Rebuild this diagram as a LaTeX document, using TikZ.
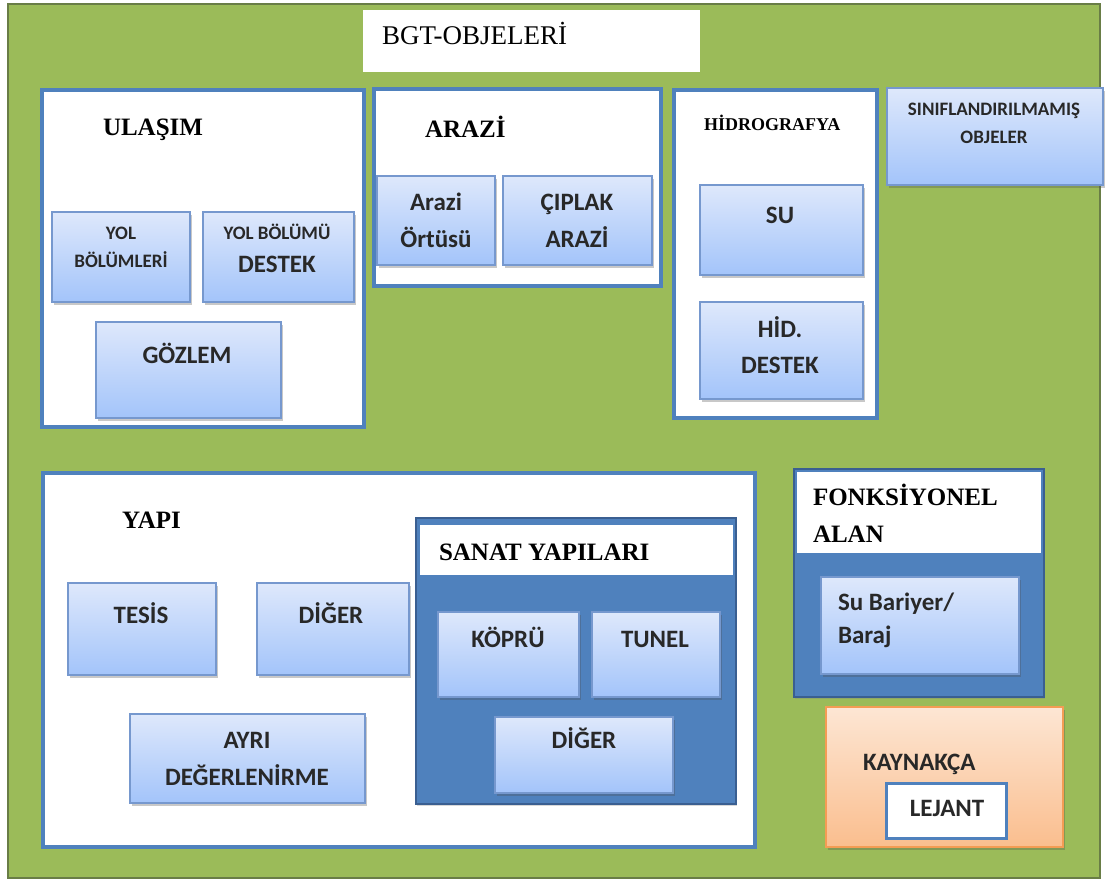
\documentclass[tikz,border=0pt]{standalone}
\usepackage{fontspec}
\setmainfont{Liberation Serif}
\newfontfamily\boxfont{Carlito}
\usetikzlibrary{shadows}

\definecolor{bgreen}{RGB}{155,187,89}
\definecolor{bgreenline}{RGB}{105,125,70}
\definecolor{frameblue}{RGB}{79,129,189}
\definecolor{darkblue}{RGB}{58,95,145}
\definecolor{boxtop}{RGB}{222,232,251}
\definecolor{boxbot}{RGB}{163,196,250}
\definecolor{boxline}{RGB}{118,152,206}
\definecolor{orgtop}{RGB}{253,230,212}
\definecolor{orgbot}{RGB}{250,190,142}
\definecolor{orgline}{RGB}{244,156,84}
\definecolor{txtc}{RGB}{40,40,40}

% rectangle node from its top-left and bottom-right corners (pixel units)
\newcommand\mkbox[6]{%
  \pgfmathsetmacro\mkw{#5-#3}\pgfmathsetmacro\mkh{#6-#4}%
  \node[#1,anchor=north west,minimum width=\mkw pt,minimum height=\mkh pt] (#2) at (#3,#4) {};}

\tikzset{
  every node/.style={inner sep=0pt, outer sep=0pt},
  area/.style={rectangle, draw=frameblue, line width=4pt, fill=white},
  darkarea/.style={rectangle, draw=darkblue, line width=2pt, fill=frameblue,
    drop shadow={shadow xshift=1pt, shadow yshift=-2pt, opacity=0.3}},
  header/.style={rectangle, fill=white},
  item/.style={rectangle, draw=boxline, line width=1.3pt, top color=boxtop, bottom color=boxbot,
    drop shadow={shadow xshift=1.5pt, shadow yshift=-3pt, opacity=0.3, fill=black!70}},
  note/.style={rectangle, draw=orgline, line width=1.3pt, top color=orgtop, bottom color=orgbot,
    drop shadow={shadow xshift=1.5pt, shadow yshift=-3pt, opacity=0.3, fill=black!70}},
  legend/.style={rectangle, draw=frameblue, line width=3pt, fill=white},
  titletext/.style={font=\fontsize{27}{32}\selectfont, anchor=base west, text=black},
  hd/.style={font=\fontsize{25}{30}\selectfont\bfseries, anchor=base west, text=black},
  hdsmall/.style={font=\fontsize{18}{22}\selectfont\bfseries, anchor=base west, text=black},
  tx/.style={font=\boxfont\fontsize{25}{30}\selectfont\bfseries, anchor=base, text=txtc},
  txl/.style={font=\boxfont\fontsize{25}{30}\selectfont\bfseries, anchor=base west, text=txtc},
  sm/.style={font=\boxfont\fontsize{19}{24}\selectfont\bfseries, anchor=base, text=txtc},
}

\begin{document}
\begin{tikzpicture}[x=1pt,y=-1pt]
\useasboundingbox (0,0) rectangle (1106,883);
\fill[white] (0,0) rectangle (1106,883);

% green canvas
\mkbox{rectangle, draw=bgreenline, line width=2pt, fill=bgreen}{canvas}{8}{4}{1100}{878}

% title
\mkbox{rectangle, fill=white}{title}{363}{10}{700}{72}
\node[titletext] (title-t) at (382,45) {BGT-OBJELERİ};

% ULAŞIM
\mkbox{area}{ulasim}{42}{90}{364}{427}
\node[hd] (ulasim-t) at (103,135) {ULAŞIM};
\mkbox{item}{yolbol}{52}{212}{190}{302}
\node[sm] (yolbol-t1) at (121,239) {YOL};
\node[sm] (yolbol-t2) at (121,267) {BÖLÜMLERİ};
\mkbox{item}{yoldes}{203}{212}{354}{302}
\node[sm] (yoldes-t1) at (277,239) {YOL BÖLÜMÜ};
\node[tx] (yoldes-t2) at (277,272) {DESTEK};
\mkbox{item}{gozlem}{96}{322}{281}{418}
\node[tx] (gozlem-t) at (187,363) {GÖZLEM};

% ARAZİ
\mkbox{area}{arazi}{374}{89}{661}{286}
\node[hd] (arazi-t) at (425,137) {ARAZİ};
\mkbox{item}{ortu}{377}{176}{495}{265}
\node[tx] (ortu-t1) at (436,210) {Arazi};
\node[tx] (ortu-t2) at (436,247) {Örtüsü};
\mkbox{item}{ciplak}{503}{176}{652}{265}
\node[tx] (ciplak-t1) at (577,210) {ÇIPLAK};
\node[tx] (ciplak-t2) at (577,247) {ARAZİ};

% HİDROGRAFYA
\mkbox{area}{hidro}{674}{90}{877}{418}
\node[hdsmall] (hidro-t) at (704,130) {HİDROGRAFYA};
\mkbox{item}{su}{700}{185}{863}{275}
\node[tx] (su-t) at (780,223) {SU};
\mkbox{item}{hidd}{700}{302}{863}{399}
\node[tx] (hidd-t1) at (780,337) {HİD.};
\node[tx] (hidd-t2) at (780,373) {DESTEK};

% SINIFLANDIRILMAMIŞ OBJELER
\mkbox{item}{sinif}{887}{88}{1103}{185}
\node[sm] (sinif-t1) at (994,115) {SINIFLANDIRILMAMIŞ};
\node[sm] (sinif-t2) at (994,143) {OBJELER};

% YAPI
\mkbox{area}{yapi}{43}{473}{755}{847}
\node[hd] (yapi-t) at (122,528) {YAPI};
\mkbox{item}{tesis}{68}{583}{216}{675}
\node[tx] (tesis-t) at (141,623) {TESİS};
\mkbox{item}{diger}{257}{583}{409}{675}
\node[tx] (diger-t) at (331,623) {DİĞER};
\mkbox{item}{ayri}{130}{714}{365}{803}
\node[tx] (ayri-t1) at (247,748) {AYRI};
\node[tx] (ayri-t2) at (247,785) {DEĞERLENİRME};

% SANAT YAPILARI
\mkbox{darkarea}{sanat}{416}{518}{736}{804}
\mkbox{header}{sanathd}{420}{525}{733}{575}
\node[hd] (sanat-t) at (439,560) {SANAT YAPILARI};
\mkbox{item}{kopru}{438}{612}{579}{697}
\node[tx] (kopru-t) at (508,647) {KÖPRÜ};
\mkbox{item}{tunel}{592}{612}{720}{697}
\node[tx] (tunel-t) at (655,647) {TUNEL};
\mkbox{item}{sdiger}{495}{717}{673}{793}
\node[tx] (sdiger-t) at (584,748) {DİĞER};

% FONKSİYONEL ALAN
\mkbox{darkarea}{fonk}{794}{469}{1044}{697}
\mkbox{header}{fonkhd}{797}{472}{1041}{553}
\node[hd] (fonk-t1) at (813,505) {FONKSİYONEL};
\node[hd] (fonk-t2) at (813,542) {ALAN};
\mkbox{item}{baraj}{821}{577}{1019}{674}
\node[txl] (baraj-t1) at (838,610) {Su Bariyer/};
\node[txl] (baraj-t2) at (838,643) {Baraj};

% KAYNAKÇA and LEJANT
\mkbox{note}{kaynak}{826}{707}{1063}{847}
\node[txl] (kaynak-t) at (863,770) {KAYNAKÇA};
\mkbox{legend}{lejant}{886}{783}{1006}{838}
\node[tx] (lejant-t) at (947,816) {LEJANT};
\end{tikzpicture}
\end{document}
